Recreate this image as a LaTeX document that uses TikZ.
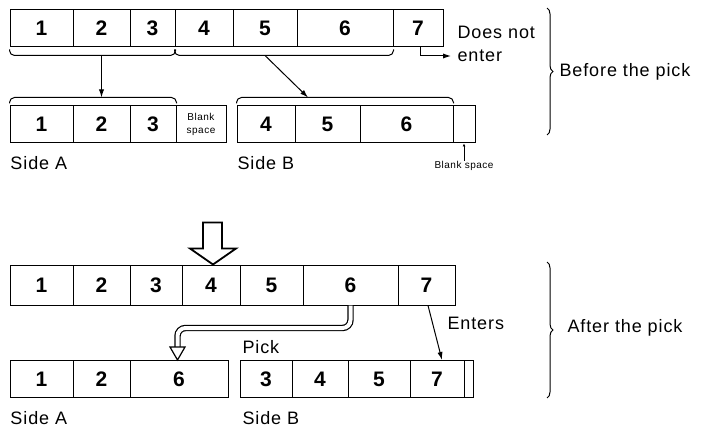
\documentclass[tikz,border=0pt]{standalone}
\usepackage{xcolor}
\usepackage{fontspec}
\setmainfont{Liberation Sans}[LetterSpace=5]
\usetikzlibrary{arrows.meta,decorations.pathreplacing}
\tikzset{
  cell/.style={draw, inner sep=0pt, minimum height=18.5pt, font=\bfseries\fontsize{10.5}{12}\selectfont},
  lbl/.style={anchor=west, inner sep=0pt, font=\fontsize{9}{11}\selectfont},
  smalltext/.style={inner sep=0pt, align=center, font=\fontsize{5}{6}\selectfont},
  grp/.style={rounded corners=2.5pt},
  bigbrace/.style={decorate, decoration={brace, amplitude=3pt}},
  hollow/.style={line width=0.9pt, line join=miter, fill=white},
  dbl/.style={double, double distance=2pt, line width=0.6pt, rounded corners=4pt},
}

\begin{document}
\begin{tikzpicture}[x=0.5pt,y=-0.5pt,line width=0.5pt,>={Latex[length=4pt,width=2.6pt]}]
\path[use as bounding box] (0,0) rectangle (710,427);
% before the pick
\node[cell, minimum width=31.5pt] (t1) at (41.5,28.5) {1};
\node[cell, minimum width=28.5pt] (t2) at (101.5,28.5) {2};
\node[cell, minimum width=22.5pt] (t3) at (152.5,28.5) {3};
\node[cell, minimum width=29pt] (t4) at (204,28.5) {4};
\node[cell, minimum width=32pt] (t5) at (265,28.5) {5};
\node[cell, minimum width=48pt] (t6) at (345,28.5) {6};
\node[cell, minimum width=25pt] (t7) at (418,28.5) {7};
\node[lbl] (dn) at (457,32) {Does not};
\node[lbl] (en) at (457,56) {enter};
\draw[->] ([xshift=1pt]t7.south) |- ([xshift=-3pt]en.west);
\draw[grp] ([yshift=-1pt]t1.south west) -- ([yshift=-4pt]t1.south west) -- ([yshift=-4pt]t3.south east) -- ([yshift=-1pt]t3.south east);
\draw[grp] ([yshift=-1pt]t4.south west) -- ([yshift=-4pt]t4.south west) -- ([yshift=-4pt]t6.south east) -- ([yshift=-1pt]t6.south east);
\node[cell, minimum width=31.5pt] (a1) at (41.5,124.5) {1};
\node[cell, minimum width=28.5pt] (a2) at (101.5,124.5) {2};
\node[cell, minimum width=23pt] (a3) at (153,124.5) {3};
\node[cell, minimum width=25pt, font=\fontsize{5}{6.5}\selectfont, align=center] (ab) at (201,124.5) {Blank\\space};
\node[cell, minimum width=29pt] (b4) at (266,124.5) {4};
\node[cell, minimum width=32.5pt] (b5) at (327.5,124.5) {5};
\node[cell, minimum width=46.5pt] (b6) at (406.5,124.5) {6};
\node[cell, minimum width=11pt] (bb) at (464,124.5) {};
\draw[grp] ([yshift=1pt]a1.north west) -- ([yshift=4pt]a1.north west) -- ([yshift=4pt]a3.north east) -- ([yshift=1pt]a3.north east);
\draw[grp] ([yshift=1pt]b4.north west) -- ([yshift=4pt]b4.north west) -- ([yshift=4pt]b6.north east) -- ([yshift=1pt]b6.north east);
\draw[->] ([yshift=-4pt]t2.south) -- ([yshift=4pt]a2.north);
\draw[->] ([yshift=-4pt]t5.south) -- ([xshift=-9.75pt,yshift=4pt]b5.north);
\node[lbl] (sa1) at (10,163) {Side A};
\node[lbl] (sb1) at (237,163) {Side B};
\node[smalltext] (blk) at (464,166) {Blank space};
\draw[-{Latex[length=1.5pt,width=1.5pt]}] (blk.north) -- (blk.north |- bb.south);
\draw[bigbrace] (547,8) -- (547,135);
\node[lbl] (bf) at (559,72) {Before the pick};
% after the pick
\node[cell, minimum width=31.5pt, minimum height=20pt] (u1) at (41.5,285) {1};
\node[cell, minimum width=28.5pt, minimum height=20pt] (u2) at (101.5,285) {2};
\node[cell, minimum width=26pt, minimum height=20pt] (u3) at (156,285) {3};
\node[cell, minimum width=29pt, minimum height=20pt] (u4) at (211,285) {4};
\node[cell, minimum width=31.5pt, minimum height=20pt] (u5) at (271.5,285) {5};
\node[cell, minimum width=47.5pt, minimum height=20pt] (u6) at (350.5,285) {6};
\node[cell, minimum width=28.5pt, minimum height=20pt] (u7) at (426.5,285) {7};
\draw[hollow] ([xshift=1pt]u4.north) -- ++(-23,-16) -- ++(13,0) -- ++(0,-26) -- ++(19,0) -- ++(0,26) -- ++(14,0) -- cycle;
\node[cell, minimum width=31.5pt] (p1) at (41.5,379) {1};
\node[cell, minimum width=28.5pt] (p2) at (101.5,379) {2};
\node[cell, minimum width=49pt] (p6) at (179,379) {6};
\node[cell, minimum width=26pt] (q3) at (266,379) {3};
\node[cell, minimum width=28pt] (q4) at (320,379) {4};
\node[cell, minimum width=31pt] (q5) at (379,379) {5};
\node[cell, minimum width=27pt] (q7) at (437,379) {7};
\node[cell, minimum width=4.5pt] (qx) at (468.5,379) {};
\draw[dbl] (u6.south) |- ([xshift=-0.75pt,yshift=16pt]p6.north) -- ([xshift=-0.75pt,yshift=6pt]p6.north);
\draw[fill=white, line width=0.6pt] ([xshift=-4.5pt,yshift=6.5pt]p6.north) -- ([xshift=3pt,yshift=6.5pt]p6.north) -- ([xshift=-0.75pt]p6.north) -- cycle;
\node[lbl] (pk) at (242,347) {Pick};
\node[lbl] (ent) at (447,323) {Enters};
\draw[->] ([xshift=0.75pt]u7.south) -- ([xshift=2.5pt]q7.north);
\node[lbl] (sa2) at (10,418) {Side A};
\node[lbl] (sb2) at (242,418) {Side B};
\draw[bigbrace] (547,262) -- (547,398);
\node[lbl] (af) at (567,328) {After the pick};
\end{tikzpicture}
\end{document}
